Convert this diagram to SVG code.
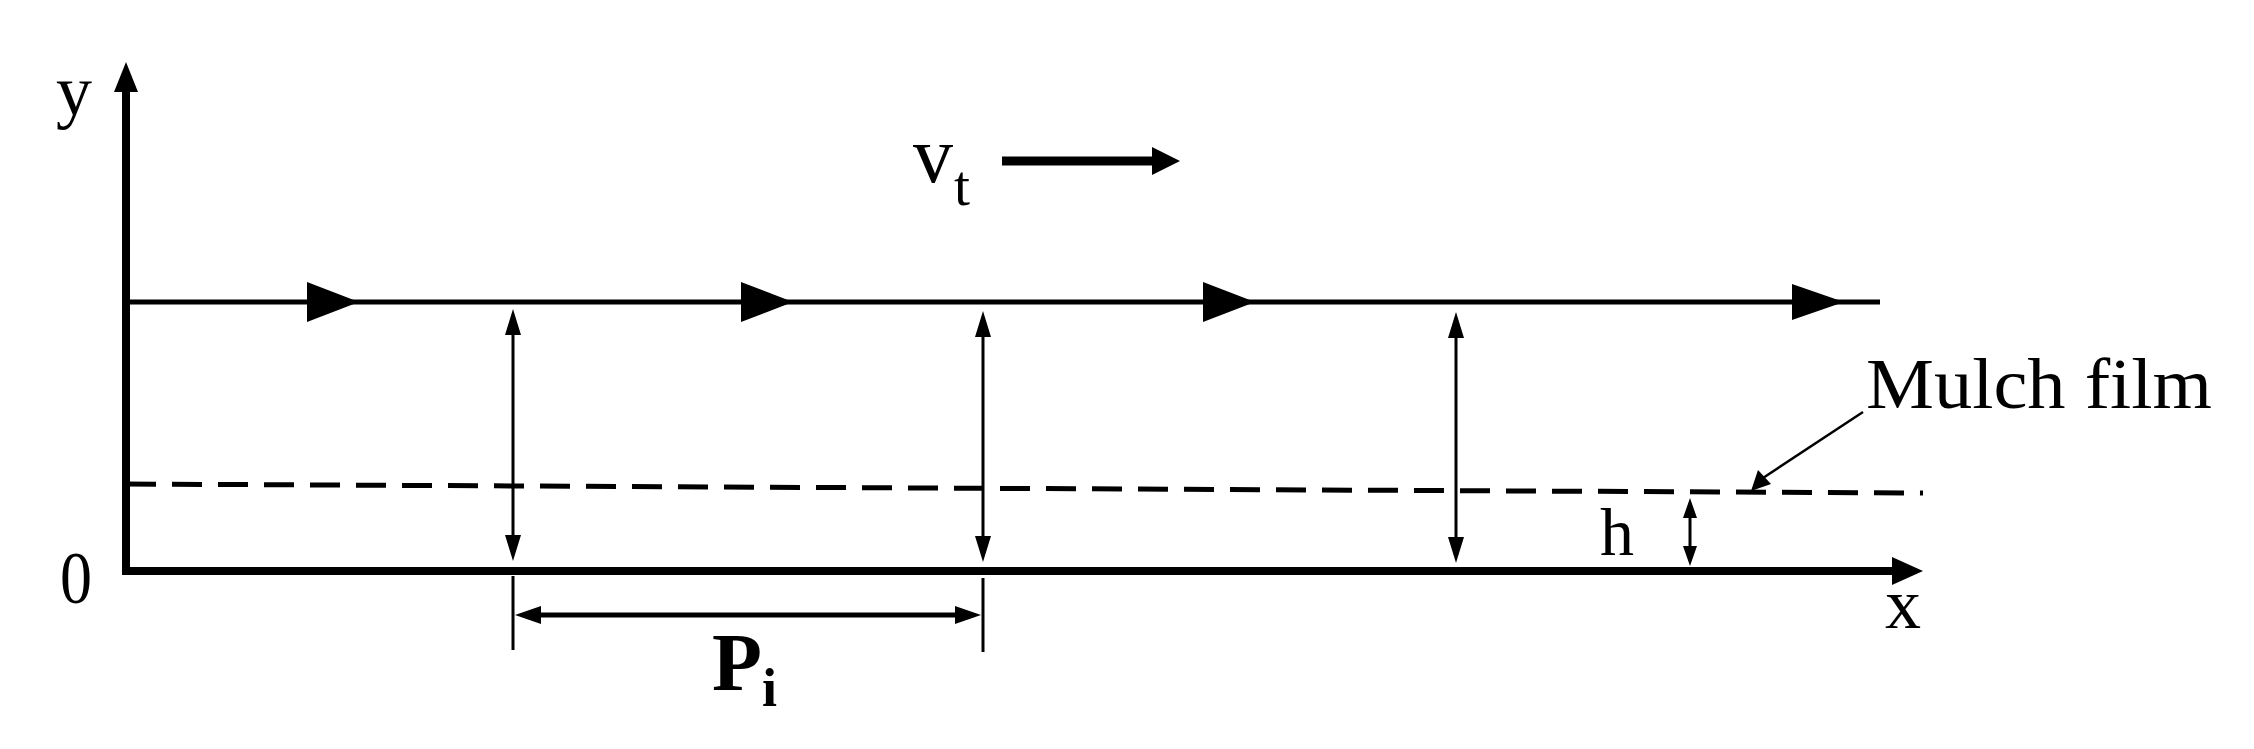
<svg xmlns="http://www.w3.org/2000/svg" width="2254" height="749" viewBox="0 0 2254 749">
<style>
text{font-family:"Liberation Serif","Times New Roman",serif;fill:#000}
.ax{stroke:#000;stroke-width:8;fill:none}
.thin{stroke:#000;stroke-width:3;fill:none}
.tri{fill:#000}
</style>
<rect width="2254" height="749" fill="#fff"/>
<g id="axes">
<line class="ax" x1="126" y1="575" x2="126" y2="90"/>
<path class="tri" d="M126,62L114,92L138,92z"/>
<line class="ax" x1="122" y1="571" x2="1895" y2="571"/>
<path class="tri" d="M1923,571L1892,557L1892,585z"/>
<text x="56" y="115" font-size="72" textLength="36" lengthAdjust="spacingAndGlyphs">y</text>
<text x="60" y="603" font-size="74" textLength="32" lengthAdjust="spacingAndGlyphs">0</text>
<text x="1885" y="628" font-size="72" textLength="36" lengthAdjust="spacingAndGlyphs">x</text>
</g>
<g id="trajectory">
<line x1="126" y1="302" x2="1880" y2="302" stroke="#000" stroke-width="5"/>
<path class="tri" d="M307,282L359,302L307,322z"/>
<path class="tri" d="M741,282L793,302L741,322z"/>
<path class="tri" d="M1203,282L1255,302L1203,322z"/>
<path class="tri" d="M1792,284L1844,302L1792,320z"/>
</g>
<g id="mulch">
<line x1="126" y1="484" x2="1923" y2="493" stroke="#000" stroke-width="5" stroke-dasharray="30,16"/>
<text x="1866" y="408" font-size="72" textLength="346" lengthAdjust="spacingAndGlyphs">Mulch film</text>
<line x1="1863" y1="412" x2="1760" y2="480" stroke="#000" stroke-width="2.5"/>
<path class="tri" d="M1751,491L1758,470L1771,484z"/>
</g>
<g id="connectors">
<g class="thin">
<line x1="513" y1="325" x2="513" y2="545"/>
<line x1="983" y1="327" x2="983" y2="546"/>
<line x1="1456" y1="328" x2="1456" y2="547"/>
<line x1="1690" y1="512" x2="1690" y2="552"/>
<line x1="513" y1="576" x2="513" y2="650"/>
<line x1="983" y1="578" x2="983" y2="652"/>
</g>
<path class="tri" d="M513,309L505,335L521,335zM513,561L505,535L521,535z"/>
<path class="tri" d="M983,311L975,337L991,337zM983,562L975,536L991,536z"/>
<path class="tri" d="M1456,312L1448,338L1464,338zM1456,563L1448,537L1464,537z"/>
<path class="tri" d="M1690,498L1683,518L1697,518zM1690,566L1683,546L1697,546z"/>
<line x1="535" y1="615" x2="961" y2="615" stroke="#000" stroke-width="5"/>
<path class="tri" d="M515,615L541,606L541,624zM981,615L955,606L955,624z"/>
<line x1="1002" y1="161" x2="1155" y2="161" stroke="#000" stroke-width="9"/>
<path class="tri" d="M1180,161L1152,147L1152,175z"/>
</g>
<g id="labels">
<text x="1600" y="555" font-size="68" textLength="34" lengthAdjust="spacingAndGlyphs">h</text>
<text x="712" y="690" font-size="82" font-weight="bold" textLength="50" lengthAdjust="spacingAndGlyphs">P</text>
<text x="762" y="706" font-size="54" font-weight="bold">i</text>
<text x="913" y="182" font-size="80" textLength="40" lengthAdjust="spacingAndGlyphs">v</text>
<text x="954" y="205" font-size="56" textLength="16" lengthAdjust="spacingAndGlyphs">t</text>
</g>
</svg>
